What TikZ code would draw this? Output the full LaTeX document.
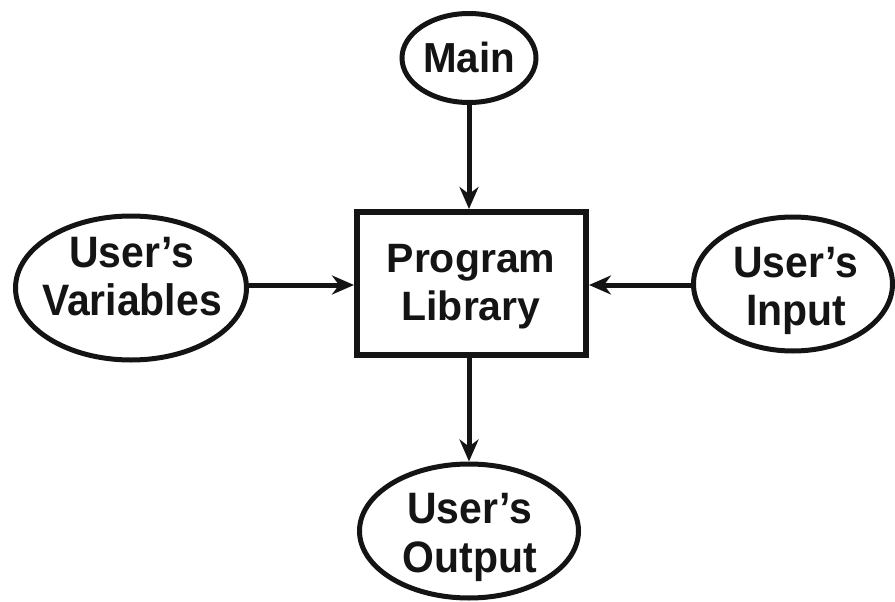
\documentclass[tikz,border=0pt]{standalone}
\usepackage{fontspec}
\setmainfont{Liberation Sans}
\newfontfamily\ovalfont[FakeStretch=0.93]{Liberation Sans}
\newfontfamily\mainfont[FakeStretch=0.96]{Liberation Sans}
\usetikzlibrary{shapes.geometric,arrows.meta}
\tikzset{
  ink/.style={draw=black!92},
  ovaltxt/.style={font=\ovalfont\fontsize{44}{48}\selectfont\bfseries, text=black!92, inner sep=0pt, anchor=base},
  boxtxt/.style={font=\fontsize{41}{48}\selectfont\bfseries, text=black!92, inner sep=0pt, anchor=base},
  maintxt/.style={font=\mainfont\fontsize{42}{48}\selectfont\bfseries, text=black!92, inner sep=0pt, anchor=base},
  oval/.style={ellipse, ink, line width=5pt, inner sep=0pt},
  progbox/.style={rectangle, ink, line width=6pt, inner sep=0pt, minimum width=229pt, minimum height=143pt},
  flow/.style={ink, line width=5pt, -{Stealth[length=22pt,width=19pt,inset=7pt]}}
}
\begin{document}
\begin{tikzpicture}[x=1pt,y=-1pt]
\useasboundingbox (0,0) rectangle (895,602);
% shapes
\node[progbox] (lib) at (471.5,283.5) {};
\node[oval, minimum width=134pt, minimum height=89pt] (main) at (469,58) {};
\node[oval, minimum width=231pt, minimum height=144pt] (var) at (131,288) {};
\node[oval, minimum width=199pt, minimum height=134pt] (inp) at (793,284) {};
\node[oval, minimum width=219pt, minimum height=134pt] (out) at (469,531) {};
% texts
\node[maintxt] (mainA) at (469,73) {Main};
\node[boxtxt] (libA) at (471,272) {Program};
\node[boxtxt] (libB) at (471,320) {Library};
\node[ovaltxt] (varA) at (132,267) {User’s};
\node[ovaltxt] (varB) at (132,315) {Variables};
\node[ovaltxt] (inpA) at (796,277) {User’s};
\node[ovaltxt] (inpB) at (796,325) {Input};
\node[ovaltxt] (outA) at (470,523) {User’s};
\node[ovaltxt] (outB) at (470,572) {Output};
% connectors
\draw[flow] (main.south) -- (main.south |- lib.north);
\draw[flow] (var.east |- 0,285) -- (lib.west |- 0,285);
\draw[flow] (inp.west |- 0,285) -- (lib.east |- 0,285);
\draw[flow] (lib.south -| 469,0) -- (out.north);
\end{tikzpicture}
\end{document}
